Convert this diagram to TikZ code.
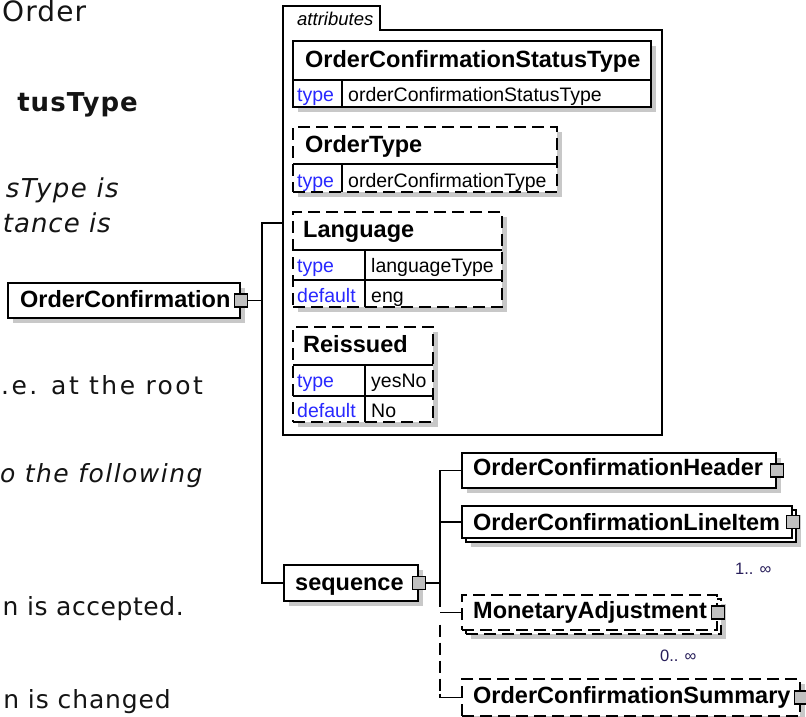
\documentclass[tikz,border=0pt]{standalone}
\usepackage{fontspec}
\setmainfont{Liberation Sans}
\newfontfamily\docfont{DejaVu Sans}
\usetikzlibrary{shadows,calc}
\definecolor{shd}{RGB}{200,200,200}
\definecolor{sqc}{RGB}{192,192,192}
\definecolor{kwc}{RGB}{40,40,255}
\definecolor{multc}{RGB}{40,30,90}
\definecolor{doctext}{RGB}{20,20,20}
\newcommand{\docsz}[1]{\docfont\fontsize{25}{30}\selectfont\addfontfeature{LetterSpace=#1}}
\newcommand{\docszb}[1]{\docfont\fontsize{26}{30}\selectfont\addfontfeature{LetterSpace=#1}}
\tikzset{
 ln/.style={line width=1.9pt},
 box/.style={draw=black, line width=1.9pt, fill=white, inner sep=0pt, rectangle},
 shadowed/.style={drop shadow={shadow xshift=5pt, shadow yshift=-5pt, fill=shd, opacity=1}},
 dsh/.style={dash pattern=on 12pt off 6pt},
 el/.style={font=\fontsize{23.5}{28}\selectfont\bfseries, inner sep=0pt, anchor=base west},
 rw/.style={font=\fontsize{19.5}{23}\selectfont, inner sep=0pt, anchor=base west, text=black},
 kwd/.style={rw, text=kwc},
 sqr/.style={draw=black, fill=sqc, line width=1.2pt, minimum size=13pt, inner sep=0pt},
 doc/.style={inner sep=0pt, text=doctext},
 mul/.style={font=\fontsize{16.5}{19}\selectfont, inner sep=0pt, text=multc, anchor=base west},
}
\begin{document}
\begin{tikzpicture}[x=1pt,y=-1pt]
\useasboundingbox[fill=white] (0,0) rectangle (806,717);
% background document text
\node[doc, anchor=base west, font={\docfont\fontsize{28}{32}\selectfont\addfontfeature{LetterSpace=4}}] (t1) at (2,22) {Order};
\node[doc, anchor=base east, font={\docfont\bfseries\fontsize{26}{30}\selectfont\addfontfeature{LetterSpace=4}}] (t2) at (138,111) {tusType};
\node[doc, anchor=base east, font={\docszb{5.6}\itshape}] (t3) at (119,197) {sType is};
\node[doc, anchor=base east, font={\docszb{3.8}\itshape}] (t4) at (111,232) {tance is};
\node[doc, anchor=base west, font={\docsz{9.8}}] (t5) at (1,394) {.e. at the root};
\node[doc, anchor=base west, font={\docsz{5.9}\itshape}] (t6) at (0,482) {o the following};
\node[doc, anchor=base east, font={\docsz{2.3}}] (t7) at (184,615) {n is accepted.};
\node[doc, anchor=base east, font={\docsz{3.5}}] (t8) at (171,708) {n is changed};

% root element
\node[box, shadowed, minimum width=232pt, minimum height=35pt] (oc) at (124,300.5) {};
\node[el] (ocT) at (20,307) {OrderConfirmation};
\node[sqr] (ocS) at (oc.east) {};

% attributes group
\draw[ln] (283,435) -- (283,6) -- (380,6) -- (380,30) -- (662,30) -- (662,435) -- cycle;
\node[inner sep=0pt, minimum width=379pt, minimum height=405pt] (attr) at (472.5,232.5) {};
\node[font=\fontsize{18.5}{22}\selectfont\itshape, inner sep=0pt, anchor=base west] (attrT) at (297,26) {attributes};

% OrderConfirmationStatusType
\node[box, shadowed, minimum width=358pt, minimum height=66pt] (a1) at (472,74) {};
\draw[ln] (293,80) -- (651,80); \draw[ln] (342,80) -- (342,107);
\node[el] (a1T) at (305,67) {OrderConfirmationStatusType};
\node[kwd] (a1k) at (297,102) {type};
\node[rw] (a1v) at (348,102) {orderConfirmationStatusType};

% OrderType
\node[box, dsh, shadowed, minimum width=264pt, minimum height=65pt] (a2) at (425,159.5) {};
\draw[ln] (293,164) -- (557,164); \draw[ln] (342,164) -- (342,192);
\node[el] (a2T) at (305,152) {OrderType};
\node[kwd] (a2k) at (297,187) {type};
\node[rw] (a2v) at (348,187) {orderConfirmationType};

% Language
\node[box, dsh, shadowed, minimum width=209pt, minimum height=95pt] (a3) at (397.5,259.5) {};
\draw[ln] (293,250) -- (502,250); \draw[ln] (293,280) -- (502,280); \draw[ln] (365,250) -- (365,307);
\node[el] (a3T) at (303,237) {Language};
\node[kwd] (a3k1) at (297,272) {type};
\node[rw] (a3v1) at (371,272) {languageType};
\node[kwd] (a3k2) at (297,302) {default};
\node[rw] (a3v2) at (371,302) {eng};

% Reissued
\node[box, dsh, shadowed, minimum width=140pt, minimum height=95pt] (a4) at (363,374.5) {};
\draw[ln] (293,365) -- (433,365); \draw[ln] (293,396) -- (433,396); \draw[ln] (365,365) -- (365,422);
\node[el] (a4T) at (303,352) {Reissued};
\node[kwd] (a4k1) at (297,387) {type};
\node[rw] (a4v1) at (371,387) {yesNo};
\node[kwd] (a4k2) at (297,417) {default};
\node[rw] (a4v2) at (371,417) {No};

% sequence
\node[box, shadowed, minimum width=134pt, minimum height=36pt] (seq) at (351,583) {};
\node[el] (seqT) at (295,590) {sequence};
\node[sqr] (seqS) at (seq.east) {};

% children
\node[box, shadowed, minimum width=314pt, minimum height=35pt] (hdr) at (619,470.5) {};
\node[el] (hdrT) at (473,475) {OrderConfirmationHeader};
\node[sqr] (hdrS) at (hdr.east) {};

\node[box, shadowed, minimum width=330pt, minimum height=32pt] (liB) at (631,526) {};
\node[box, minimum width=330pt, minimum height=32pt] (li) at (627,522) {};
\node[el] (liT) at (473,530) {OrderConfirmationLineItem};
\node[sqr] (liS) at (li.east) {};
\node[mul] (m1) at (735,574) {1.. ∞};

\node[box, dsh, shadowed, minimum width=255pt, minimum height=35pt] (maB) at (593.5,616.5) {};
\node[box, dsh, minimum width=255pt, minimum height=35pt] (ma) at (589.5,612.5) {};
\node[el] (maT) at (473,618) {MonetaryAdjustment};
\node[sqr] (maS) at (ma.east) {};
\node[mul] (m2) at (660,661) {0.. ∞};

\node[box, dsh, shadowed, minimum width=338pt, minimum height=37pt] (su) at (631,697.5) {};
\node[el] (suT) at (473,703) {OrderConfirmationSummary};
\node[sqr] (suS) at (su.east) {};

% connectors
\coordinate (j1) at (262,300.5);
\coordinate (j1t) at (262,223);
\coordinate (j1b) at (262,583);
\draw[ln] (ocS.east) -- (j1);
\draw[ln] (attr.west |- j1t) -- (j1t) -- (j1b) -- (seq.west);

\coordinate (j2) at (440,583);
\coordinate (vtop) at (j2 |- hdr.west);
\coordinate (vma) at (j2 |- ma.west);
\coordinate (vsu) at (j2 |- su.west);
\draw[ln] (seqS.east) -- (j2);
\draw[ln] (hdr.west) -- (vtop) -- (j2) -- ($(vma)+(0,-6)$);
\draw[ln] (li.west) -- (li.west -| j2);
\draw[ln] (ma.west) -- (vma);
\draw[ln, dsh] ($(vma)+(0,12)$) -- ($(vsu)+(0,-4)$);
\draw[ln] ($(vsu)+(0,-4)$) -- (vsu) -- (su.west);
\end{tikzpicture}
\end{document}
